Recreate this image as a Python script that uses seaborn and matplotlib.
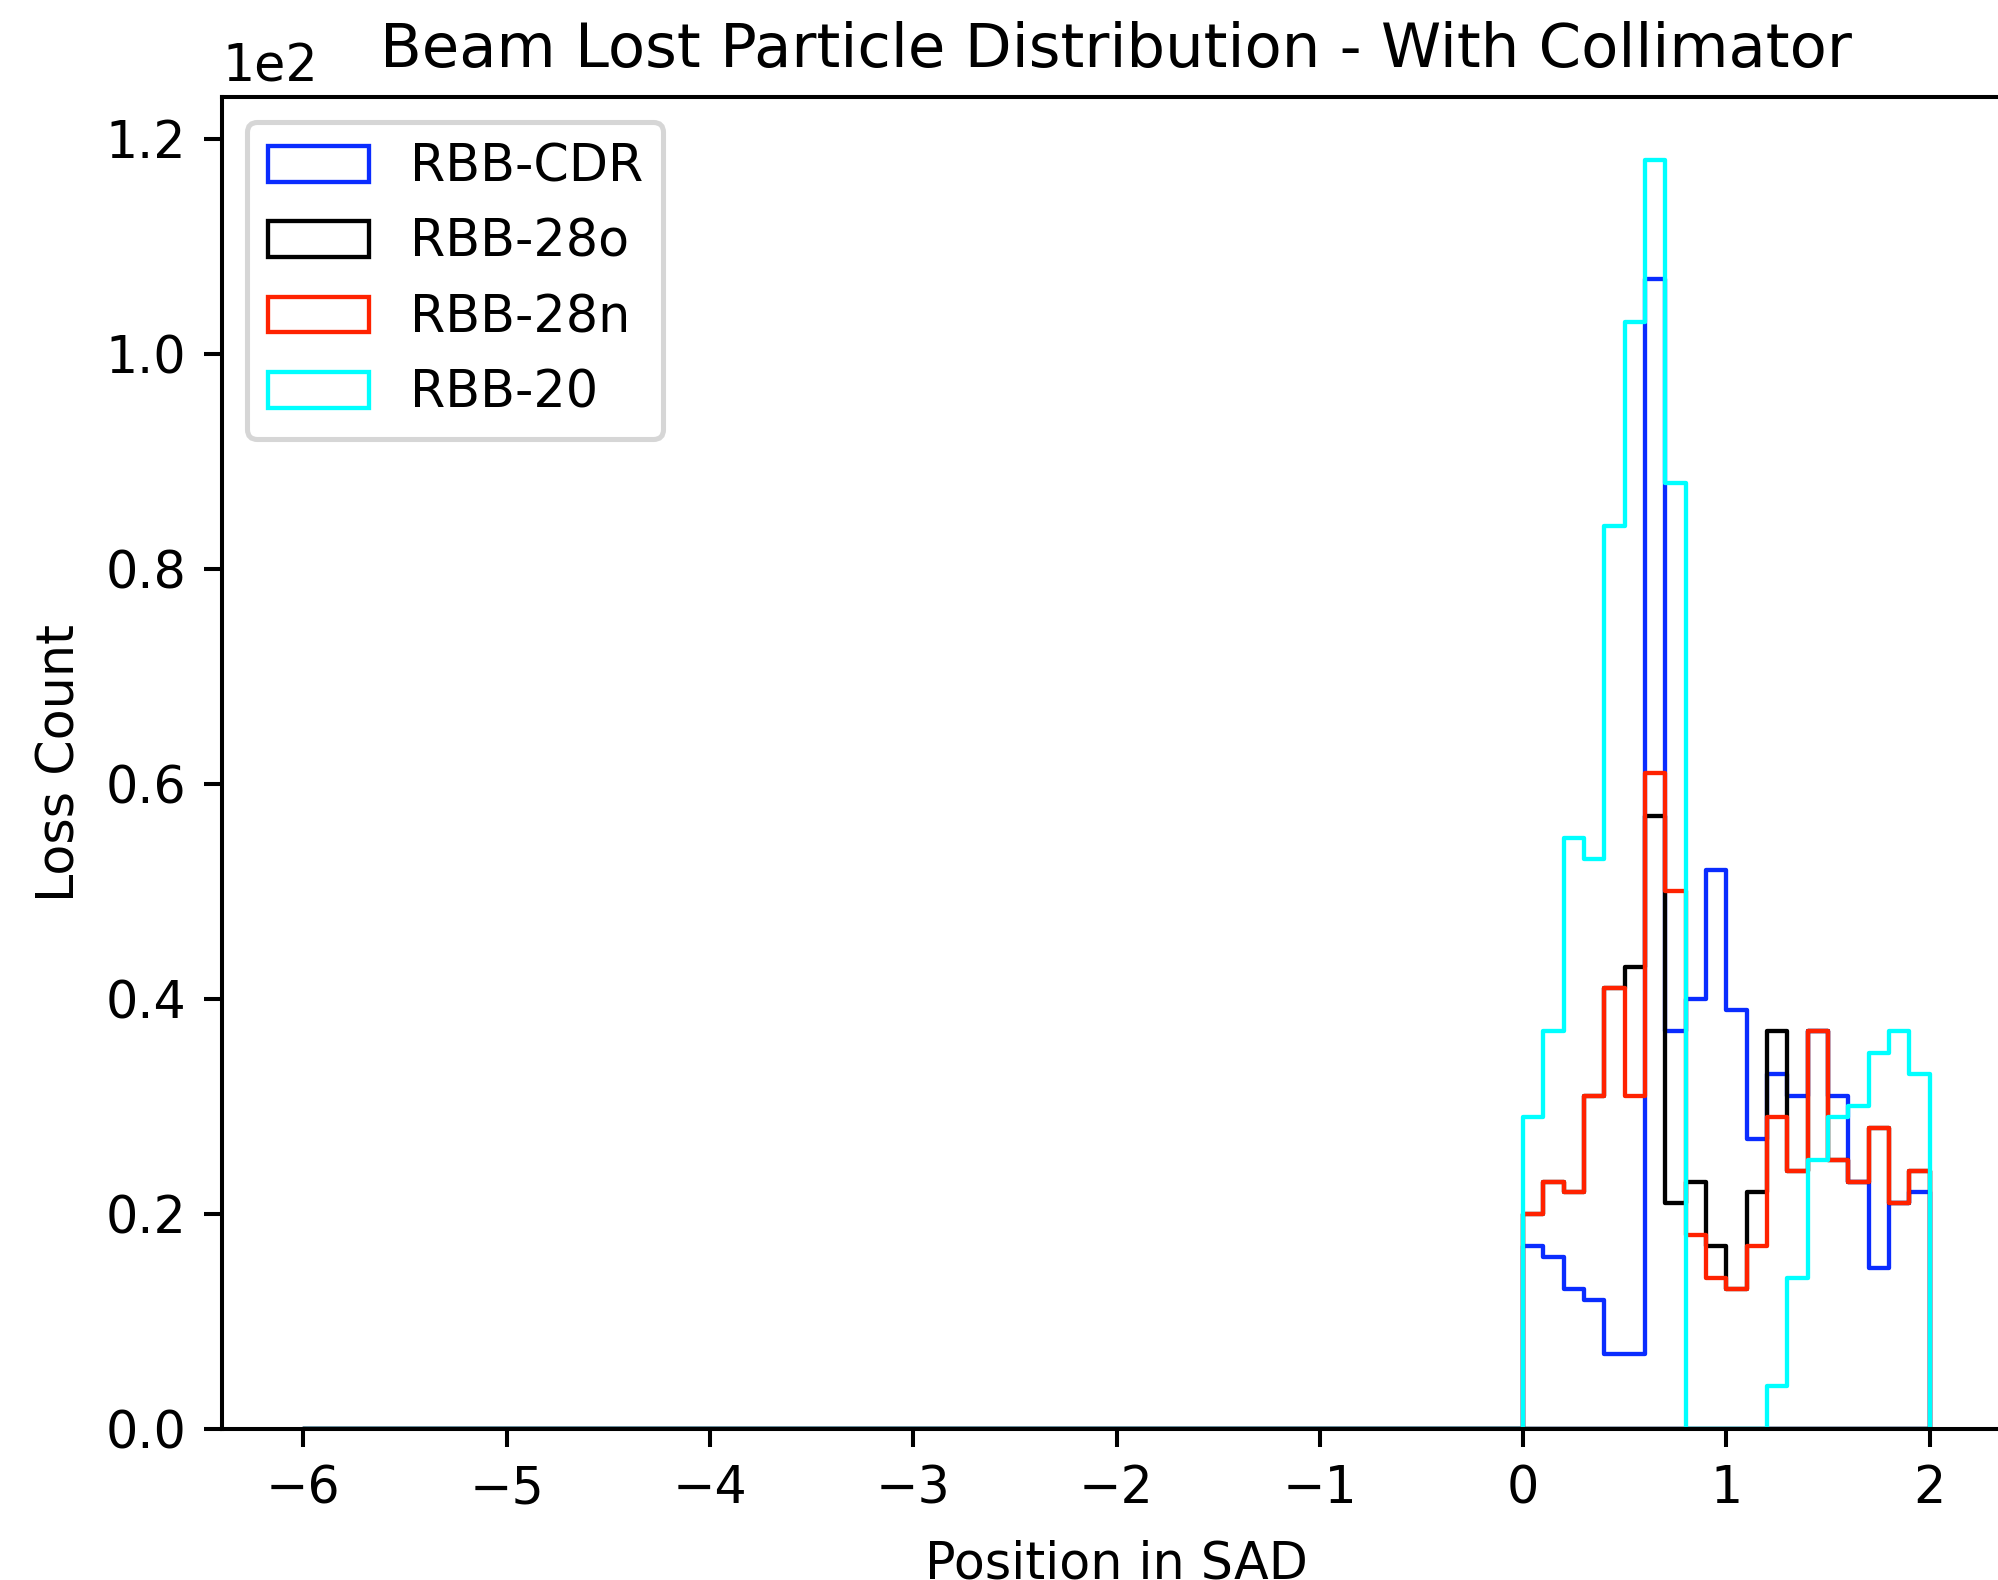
import numpy as np
import pandas as pd
import matplotlib
matplotlib.use("Agg")
import matplotlib.pyplot as plt
import seaborn as sns

# ---- data ----
bin_edges = list(np.linspace(-6, 2, 81))     # 80 bins of width 0.1
neg_zero = [0] * 60                          # bins from -6 to 0 are empty

series_names = ["RBB-CDR", "RBB-28o", "RBB-28n", "RBB-20"]
series_colors = ["#0a2cff", "black", "#ff2200", "#00ffff"]

rbb_cdr = [17, 16, 13, 12, 7, 7, 107, 37, 40, 52, 39, 27, 33, 31, 37, 31, 23, 15, 21, 22]
rbb_28o = [20, 23, 22, 31, 41, 43, 57, 21, 23, 17, 13, 22, 37, 24, 37, 25, 23, 28, 21, 24]
rbb_28n = [20, 23, 22, 31, 41, 31, 61, 50, 18, 14, 13, 17, 29, 24, 37, 25, 23, 28, 21, 24]
rbb_20 = [29, 37, 55, 53, 84, 103, 118, 88, 0, 0, 0, 0, 4, 14, 25, 29, 30, 35, 37, 33]

series_counts = [rbb_cdr, rbb_28o, rbb_28n, rbb_20]

edges_arr = np.asarray(bin_edges)
centers = (edges_arr[:-1] + edges_arr[1:]) / 2

rows = []
for name, counts in zip(series_names, series_counts):
    w = neg_zero + counts
    rows.append(pd.DataFrame({"pos": centers, "count": w, "series": name}))
df = pd.concat(rows, ignore_index=True)

# ---- figure ----
dpi = 365
fig = plt.figure(figsize=(1999 / dpi, 1580 / dpi), dpi=dpi)
ax = fig.add_axes([222 / 1999, 1 - 1429 / 1580, (2011 - 222) / 1999, (1429 - 97) / 1580])

for name, color in zip(series_names, series_colors):
    sub = df[df["series"] == name]
    sns.histplot(data=sub, x="pos", weights="count", bins=bin_edges,
                 element="step", fill=True, facecolor="none",
                 edgecolor=color, color=color, linewidth=0.85, label=name, ax=ax)

ax.set_xlim(-6.4, 2.4)
ax.set_ylim(0, 123.9)
ax.ticklabel_format(axis="y", style="sci", scilimits=(0, 0))
ax.set_xlabel("Position in SAD", labelpad=5)
ax.set_ylabel("Loss Count")
ax.set_title("Beam Lost Particle Distribution - With Collimator")
ax.legend(loc="upper left")

fig.savefig("out.png", dpi=dpi)
